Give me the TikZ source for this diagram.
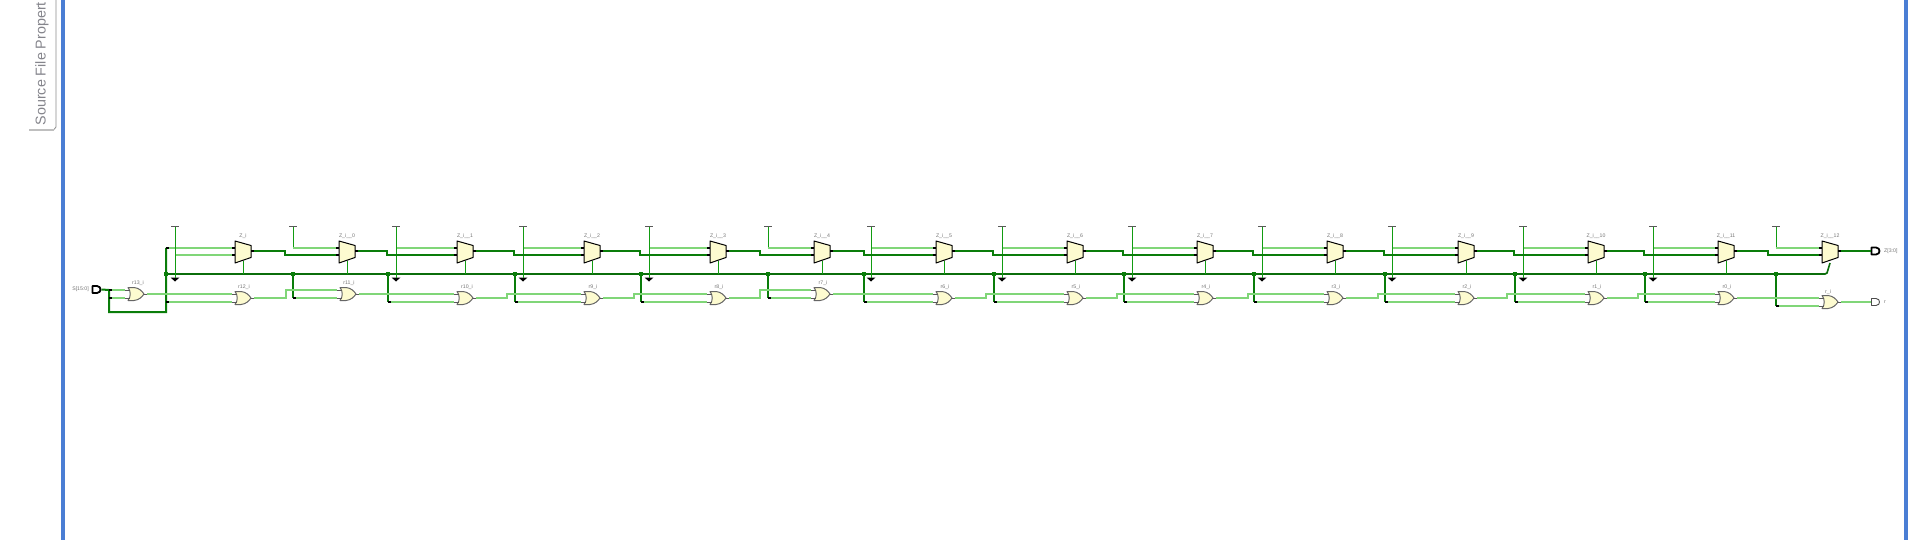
\documentclass[tikz,border=0pt]{standalone}
\usepackage{fontspec}
\setmainfont{Liberation Sans}
\definecolor{dkg}{HTML}{0A7D0A}
\definecolor{busg}{HTML}{0B6E0B}
\definecolor{ltg}{HTML}{80D678}
\definecolor{vccg}{HTML}{129C12}
\definecolor{cream}{HTML}{FDFBD0}
\definecolor{frameblue}{HTML}{4A7ED4}
\definecolor{lab}{HTML}{757575}
\definecolor{tabtext}{HTML}{85858C}
\tikzset{
 thinw/.style={ltg,line width=1.6pt},
 thickw/.style={dkg,line width=1.6pt},
 busw/.style={busg,line width=1.6pt},
 dropw/.style={dkg,line width=2pt},
 vccw/.style={vccg,line width=0.9pt},
 pinb/.style={black,line width=1.1pt},
 ping/.style={black!65,line width=1pt},
 tiny label/.style={lab,font=\fontsize{5.2}{6}\selectfont,inner sep=0pt},
 junc/.style={fill=dkg,draw=none,minimum size=4pt,inner sep=0pt,shape=rectangle},
 muxbody/.style={fill=cream,draw=black,line width=1pt,line join=round},
 orbody/.style={fill=cream,draw=black!60,line width=1pt,line join=round},
}
% name, left x, label
\newcommand{\muxgate}[3]{%
 \filldraw[muxbody] (#2,241) -- ({#2+16},245.5) -- ({#2+16},257.5) -- (#2,263) -- cycle;
 \node[tiny label] (#1lab) at ({#2+8},236) {#3};
 \coordinate (#1a) at ({#2-3},248);
 \coordinate (#1b) at ({#2-3},255);
 \coordinate (#1o) at ({#2+19},251);
 \coordinate (#1s) at ({#2+8},261.5);
 \draw[pinb] (#1a) -- ++(3,0);
 \draw[pinb] (#1b) -- ++(3,0);
 \draw[pinb] (#1o) -- ++(-3,0);
}
% name, left x, centre y, label, label dx, label dy
\newcommand{\orgate}[6]{%
 \filldraw[orbody] (#2,{#3-6.5}) -- ({#2+6},{#3-6.5}) .. controls ({#2+11},{#3-6}) and ({#2+14},{#3-3}) .. ({#2+16},#3)
   .. controls ({#2+14},{#3+3}) and ({#2+11},{#3+6}) .. ({#2+6},{#3+6.5}) -- (#2,{#3+6.5})
   .. controls ({#2+3},{#3+3}) and ({#2+3},{#3-3}) .. cycle;
 \node[tiny label] (#1lab) at ({#2+#5},{#3+#6}) {#4};
 \coordinate (#1a) at ({#2-3},{#3-4});
 \coordinate (#1b) at ({#2-3},{#3+4});
 \coordinate (#1o) at ({#2+19},#3);
 \draw[ping] (#1a) -- ++(5,0);
 \draw[ping] (#1b) -- ++(5,0);
 \draw[ping] (#1o) -- ++(-3,0);
}
% vcc stub
\newcommand{\vccstub}[2]{%
 \coordinate (#1) at (#2,227);
 \draw[black!65,line width=1pt] (#2-4,227) -- (#2+4,227);
}
\newcommand{\gndstub}[2]{%
 \coordinate (#1) at (#2,278);
 \fill[black] (#2-4.5,277.5) -- (#2+4.5,277.5) -- (#2,281.5) -- cycle;
}
\begin{document}
\begin{tikzpicture}[x=1pt,y=-1pt]
\useasboundingbox (0,0) rectangle (1920,540);
\fill[white] (0,0) rectangle (1920,540);
% window frame
\fill[frameblue] (61,0) rectangle (65,540);
\fill[frameblue] (1904,0) rectangle (1908,540);
\draw[black!45,line width=0.8pt] (56,0) -- (56,127) -- (54,129.5);
\draw[black!25,line width=1.4pt] (54,130) -- (29,130);
\node[anchor=base west,rotate=90,inner sep=0pt,text=tabtext,font=\fontsize{14.3}{18}\selectfont] (tab) at (45.5,125.5) {Source File Propert};

% gates
\muxgate{m0}{235}{Z\_i}
\foreach \n/\l [count=\c from 0] in {0/339,1/457,2/584,3/710,4/814,5/936,6/1067,7/1197,8/1327,9/1458,10/1588,11/1718,12/1822}{
 \pgfmathtruncatemacro{\k}{\c+1}
 \muxgate{m\k}{\l}{Z\_i\_\_\n}
}
\orgate{r13}{128}{294}{r13\_i}{10}{-11}
\orgate{o0}{235}{298}{r12\_i}{9}{-11}
\orgate{o1}{340}{294}{r11\_i}{9}{-11}
\orgate{o2}{457}{298}{r10\_i}{10}{-11}
\orgate{o3}{584}{298}{r9\_i}{9}{-11}
\orgate{o4}{710}{298}{r8\_i}{9}{-11}
\orgate{o5}{814}{294}{r7\_i}{9}{-11}
\orgate{o6}{936}{298}{r6\_i}{9}{-11}
\orgate{o7}{1067}{298}{r5\_i}{9}{-11}
\orgate{o8}{1197}{298}{r4\_i}{9}{-11}
\orgate{o9}{1327}{298}{r3\_i}{9}{-11}
\orgate{o10}{1458}{298}{r2\_i}{9}{-11}
\orgate{o11}{1588}{298}{r1\_i}{9}{-11}
\orgate{o12}{1718}{298}{r0\_i}{9}{-11}
\orgate{o13}{1822}{302}{r\_i}{6}{-10}

% ports
\filldraw[fill=white,draw=black,line width=1.8pt,line join=round] (92.5,286) -- (97,286) .. controls (99.5,286) and (100.5,288) .. (100.5,289.5) .. controls (100.5,291) and (99.5,293) .. (97,293) -- (92.5,293) -- cycle;
\coordinate (sp) at (101.5,289.5);
\node[tiny label,anchor=east] (slab) at (89,289) {S[15:0]};
\filldraw[fill=white,draw=black,line width=1.8pt,line join=round] (1871.5,247.5) -- (1876,247.5) .. controls (1878.5,247.5) and (1879.5,249.5) .. (1879.5,251) .. controls (1879.5,252.5) and (1878.5,254.5) .. (1876,254.5) -- (1871.5,254.5) -- cycle;
\coordinate (zp) at (1871,251);
\node[tiny label,anchor=west] (zlab) at (1884,251) {Z[3:0]};
\filldraw[fill=white,draw=black!70,line width=0.9pt,line join=round] (1871.5,298.5) -- (1876,298.5) .. controls (1878.5,298.5) and (1879.5,300.5) .. (1879.5,302) .. controls (1879.5,303.5) and (1878.5,305.5) .. (1876,305.5) -- (1871.5,305.5) -- cycle;
\coordinate (rp) at (1871,302);
\node[tiny label,anchor=west] (rlab) at (1884,302) {r};

% S[15:0] bus into the chain
\coordinate (s1) at (109,290);
\coordinate (s2) at (109,298);
\coordinate (s3) at (109,312);
\coordinate (s4) at (166,312);
\coordinate (s5) at (166,248);
\coordinate (s6) at (166,302);
\coordinate (bs) at (166,274);
\coordinate (be) at (1825,274);
\draw[dropw,line join=miter] (sp) -- (s1) -- (s3) -- (s4) -- (s5);
\draw[thinw] (s1) -- (r13a);
\draw[thinw] (s2) -- (r13b);
\draw[thinw] (s5) -- (m0a);
\draw[thinw] (s6) -- (o0b);
\draw[thinw] (r13o) -- (o0a);
\foreach \c in {s1,s2,s5,s6} \draw[pinb,line width=1.4pt] (\c) -- ++(3,0);

% select bus
\draw[busw] (bs) -- (be) -- ++(2,-1) -- (1830,263);
\foreach \k/\x in {0/243,1/347,2/465,3/592,4/718,5/822,6/944,7/1075,8/1205,9/1335,10/1466,11/1596,12/1726}{
 \draw[vccw] (\x,274) -- (m\k s);
}
\node[junc] (j0) at (bs) {};

% constant stubs: 14 ties, those with a ground run through to it
\vccstub{v0}{175}\gndstub{g0}{175}
\draw[vccw] (v0) -- (g0);
\draw[thinw] (175.5,255) -- (m0b);
\foreach \k/\x/\g in {1/293/0,2/396/1,3/523/1,4/649/1,5/768/0,6/871/1,7/1002/1,8/1132/1,9/1262/1,10/1392/1,11/1523/1,12/1653/1,13/1776/0}{
 \vccstub{v\k}{\x}
 \ifnum\g=1
  \gndstub{g\k}{\x}
  \draw[vccw] (v\k) -- (g\k);
  \draw[thinw] (\x+1,248) -- (m\k a);
 \else
  \draw[vccw] (v\k) -- (\x,248);
  \draw[thinw] (\x-0.5,248) -- (m\k a);
 \fi
}

% mux chain
\foreach \k/\s in {1/285,2/387,3/514,4/640,5/760,6/864,7/993,8/1123,9/1253,10/1384,11/1514,12/1644,13/1768}{
 \pgfmathtruncatemacro{\p}{\k-1}
 \draw[thickw] (m\p o) -- (\s,251) -- (\s,255) -- (m\k b);
}
\draw[thickw] (m13o) -- (zp);

% drops from select bus into or-gates
\foreach \k/\d/\y in {1/293/298,2/388/302,3/515/302,4/641/302,5/768/298,6/864/302,7/994/302,8/1124/302,9/1254/302,10/1385/302,11/1515/302,12/1645/302,13/1776/306}{
 \node[junc] (j\k) at (\d,274) {};
 \coordinate (d\k) at (\d,\y);
 \draw[dropw] (j\k.center) -- (d\k);
 \draw[thinw] (d\k) -- (o\k b);
 \draw[pinb,line width=1.4pt] (d\k) -- ++(3,0);
}

% or-gate chain
\draw[thinw] (o0o) -- (286,298) -- (286,290) -- (o1a);
\draw[thinw] (o1o) -- (o2a);
\foreach \p/\k/\s in {2/3/507,3/4/634,6/7/986,7/8/1117,8/9/1248,9/10/1378,10/11/1507,11/12/1638}{
 \draw[thinw] (o\p o) -- (\s,298) -- (\s,294) -- (o\k a);
}
\draw[thinw] (o4o) -- (760,298) -- (760,290) -- (o5a);
\draw[thinw] (o5o) -- (o6a);
\draw[thinw] (o12o) -- (o13a);
\draw[thinw] (o13o) -- (rp);
\end{tikzpicture}
\end{document}
